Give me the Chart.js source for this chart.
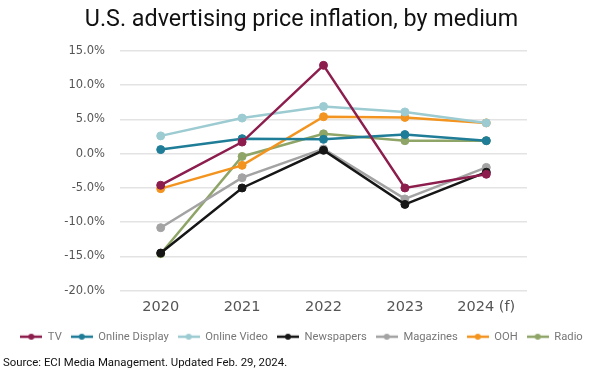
<!DOCTYPE html>
<html>
<head>
<meta charset="utf-8">
<script src="https://cdn.jsdelivr.net/npm/chart.js@4.4.1/dist/chart.umd.min.js"></script>
<style>
html,body{margin:0;padding:0;background:#fff;}
#wrap{width:600px;height:375px;}
</style>
</head>
<body>
<div id="wrap"><canvas id="grafica"></canvas></div>
<script>
const years = ["2020","2021","2022","2023","2024 (f)"]
const tv = [-4.6, 1.7, 12.9, -5.0, -3.0]
const onlineDisplay = [0.6, 2.2, 2.1, 2.8, 1.9]
const onlineVideo = [2.6, 5.2, 6.9, 6.1, 4.5]
const newspapers = [-14.5, -5.0, 0.5, -7.4, -2.7]
const magazines = [-10.8, -3.5, 0.7, -6.6, -2.0]
const ooh = [-5.1, -1.7, 5.4, 5.3, 4.5]
const radio = [-14.6, -0.4, 2.9, 1.9, 1.9]
const yTicks = [15, 10, 5, 0, -5, -10, -15, -20]

const series = [
["TV", tv, "#8c1d4d"],
["Online Display", onlineDisplay, "#1f7d98"],
["Online Video", onlineVideo, "#9ccbd2"],
["Newspapers", newspapers, "#161616"],
["Magazines", magazines, "#a3a3a3"],
["OOH", ooh, "#f2941f"],
["Radio", radio, "#8fa567"]
]

function iconoLeyenda(color){
const c = document.createElement("canvas")
c.width = 22
c.height = 8
const ctx = c.getContext("2d")
ctx.strokeStyle = color
ctx.lineWidth = 2.5
ctx.beginPath()
ctx.moveTo(0,4)
ctx.lineTo(22,4)
ctx.stroke()
ctx.fillStyle = color
ctx.beginPath()
ctx.arc(11,4,3,0,Math.PI*2)
ctx.fill()
return c
}

const datasets = series.map(s=>({
label:s[0],
data:s[1],
borderColor:s[2],
backgroundColor:s[2],
borderWidth:2.5,
pointRadius:4,
pointBorderWidth:1,
pointHoverRadius:4,
tension:0,
yAxisID:"y"
}))

new Chart(document.getElementById("grafica"),{
type:"line",
data:{labels:years,datasets:datasets},
options:{
responsive:true,
maintainAspectRatio:false,
animation:false,
layout:{padding:{left:3,right:0,top:6,bottom:5}},
scales:{
x:{
offset:true,
grid:{display:false},
border:{display:false},
afterFit:(scale)=>{scale.height += 6},
ticks:{color:"#555",font:{family:"DejaVu Sans",size:14.5},padding:0}
},
y:{
min:-20,
max:15,
afterBuildTicks:(scale)=>{scale.ticks = yTicks.map(v=>({value:v}))},
afterFit:(scale)=>{scale.width = 117},
grid:{color:"#e3e3e3",lineWidth:1.5,drawTicks:false},
border:{display:false},
ticks:{
color:"#555",
font:{family:"DejaVu Sans",size:11.5},
padding:15,
callback:(v)=>v.toFixed(1)+"%"
}
},
derecha:{
position:"right",
display:true,
grid:{display:false},
border:{display:false},
ticks:{display:false},
afterFit:(scale)=>{scale.width = 73}
}
},
plugins:{
title:{
display:true,
text:"U.S. advertising price inflation, by medium",
color:"#111",
font:{family:"Roboto",size:23.3,weight:"normal"},
padding:{top:0,bottom:17}
},
legend:{
position:"bottom",
labels:{
color:"#777",
font:{family:"Roboto",size:11.2},
usePointStyle:true,
pointStyleWidth:22,
boxWidth:22,
padding:9,
generateLabels:(chart)=>chart.data.datasets.map((d,i)=>({
text:d.label,
fillStyle:d.borderColor,
strokeStyle:d.borderColor,
fontColor:"#777",
pointStyle:iconoLeyenda(d.borderColor),
datasetIndex:i,
hidden:false
}))
}
},
subtitle:{
display:true,
position:"bottom",
align:"start",
text:"Source: ECI Media Management. Updated Feb. 29, 2024.",
color:"#111",
font:{family:"Roboto",size:11.4,weight:"normal"},
padding:{top:4,bottom:0}
},
tooltip:{enabled:false}
}
}
})
</script>
</body>
</html>
